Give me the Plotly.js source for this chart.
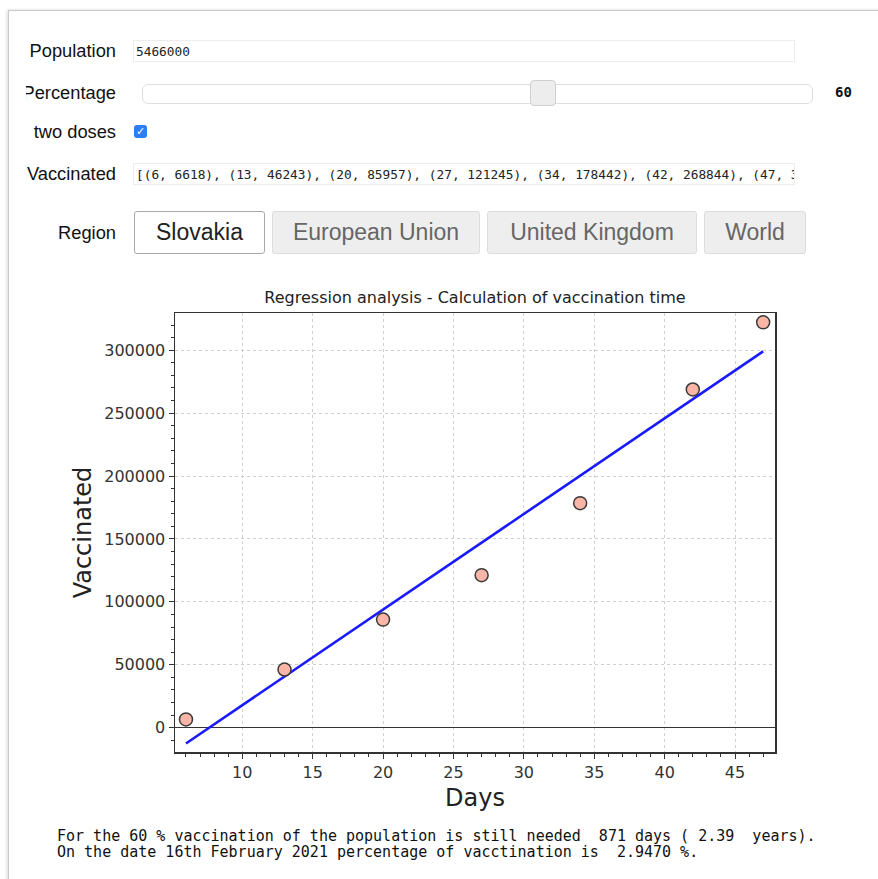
<!DOCTYPE html>
<html>
<head>
<meta charset="utf-8">
<script src="https://cdn.plot.ly/plotly-3.0.1.min.js"></script>
<style>
  html, body { margin:0; padding:0; background:#fff; width:878px; height:879px; overflow:hidden; }
  #frame { position:absolute; left:8px; top:10px; width:900px; height:900px; border-left:1px solid #c8c8c8; border-top:1px solid #c8c8c8; box-shadow:-1px 0 3px rgba(0,0,0,0.15); }
  #plot { position:absolute; left:0; top:0; width:878px; height:879px; }
  .lbl { position:absolute; left:26px; width:90px; height:24px; display:flex; justify-content:flex-end; align-items:center; overflow:hidden; white-space:nowrap; font-family:"Liberation Sans", Arial, sans-serif; font-size:18.3px; color:#111; }
  .inp { position:absolute; left:133px; width:662px; height:22px; border:1px solid #ececec; background:#fff; font-family:"DejaVu Sans Mono", monospace; font-size:12.8px; color:#222; line-height:22px; padding-left:2px; overflow:hidden; white-space:nowrap; box-sizing:border-box; }
  .btn { position:absolute; top:211px; height:43px; box-sizing:border-box; border:1px solid #dcdcdc; border-radius:3px; background:#eeeeee; color:#666; font-family:"Liberation Sans", Arial, sans-serif; font-size:23px; display:flex; align-items:center; justify-content:center; white-space:nowrap; }
  .txt { position:absolute; left:57px; font-family:"DejaVu Sans Mono", monospace; font-size:15px; line-height:16px; color:#111; white-space:pre; }
</style>
</head>
<body>
<div id="frame"></div>
<div id="plot"></div>

<div class="lbl" style="top:39px;">Population</div>
<div class="inp" id="popInput" style="top:40px;"></div>

<div class="lbl" style="top:81px;">Percentage</div>
<div style="position:absolute; left:142px; top:84px; width:671px; height:20px; box-sizing:border-box; border:1px solid #dedede; border-radius:6px; background:#fff;"></div>
<div style="position:absolute; left:530px; top:80px; width:26px; height:26px; box-sizing:border-box; border:1px solid #cfcfcf; border-radius:4px; background:#ededed;"></div>
<div id="pctVal" style="position:absolute; left:835px; top:84px; font-family:'DejaVu Sans Mono', monospace; font-size:14px; font-weight:bold; color:#111;"></div>

<div class="lbl" style="top:120px;">two doses</div>
<div style="position:absolute; left:134px; top:125px; width:13px; height:13px; border-radius:3px; background:#2f7df6; color:#fff; font-size:11px; line-height:13px; text-align:center; font-family:'DejaVu Sans', sans-serif; font-weight:bold;">&#10003;</div>

<div class="lbl" style="top:162px;">Vaccinated</div>
<div class="inp" id="vacInput" style="top:163px;"></div>

<div class="lbl" style="top:221px;">Region</div>
<div id="btns"></div>

<div class="txt" id="result" style="top:828px;"></div>

<script>
// ---- data ----
const population = 5466000;
const percentage = 60;
const days = [6, 13, 20, 27, 34, 42, 47];
const vaccinated = [6618, 46243, 85957, 121245, 178442, 268844, 322172];
const fitDays = [6, 47];
const fitVaccinated = [-12540, 299090];
const regions = ["Slovakia", "European Union", "United Kingdom", "World"];
const xTickVals = [10, 15, 20, 25, 30, 35, 40, 45];
const yTickVals = [0, 50000, 100000, 150000, 200000, 250000, 300000];
const neededDays = 871;
const neededYears = "2.39";
const currentPct = "2.9470";
const dateText = "16th February 2021";

// ---- widget texts ----
document.getElementById('popInput').textContent = String(population);
document.getElementById('pctVal').textContent = String(percentage);
document.getElementById('vacInput').textContent =
  '[' + days.map((d, i) => '(' + d + ', ' + vaccinated[i] + ')').join(', ') + ']';
document.getElementById('result').textContent =
  'For the ' + percentage + ' % vaccination of the population is still needed  ' + neededDays + ' days ( ' + neededYears + '  years).\n' +
  'On the date ' + dateText + ' percentage of vacctination is  ' + currentPct + ' %.';

const btnPos = [[134, 131], [272, 208], [487, 210], [704, 102]];
const btnHost = document.getElementById('btns');
regions.forEach((r, i) => {
  const b = document.createElement('div');
  b.className = 'btn';
  b.style.left = btnPos[i][0] + 'px';
  b.style.width = btnPos[i][1] + 'px';
  b.textContent = r;
  if (i === 0) { b.style.background = '#fff'; b.style.color = '#222'; b.style.borderColor = '#a9a9a9'; }
  btnHost.appendChild(b);
});

// ---- chart ----
const axisFont = {family: 'DejaVu Sans, sans-serif', size: 16, color: '#333'};
const traces = [
  {
    x: fitDays, y: fitVaccinated, type: 'scatter', mode: 'lines',
    line: {color: '#1a1aff', width: 2.6}, hoverinfo: 'skip', showlegend: false
  },
  {
    x: days, y: vaccinated, type: 'scatter', mode: 'markers',
    marker: {size: 13, color: '#f9b6a6', line: {color: '#3a3a3a', width: 1.5}},
    showlegend: false
  }
];
const layout = {
  width: 878, height: 879,
  margin: {l: 175, r: 103, t: 313, b: 127, pad: 0},
  paper_bgcolor: 'rgba(0,0,0,0)', plot_bgcolor: '#fff',
  title: {
    text: 'Regression analysis - Calculation of vaccination time',
    font: {family: 'DejaVu Sans, sans-serif', size: 16, color: '#222'},
    xref: 'paper', x: 0.5, xanchor: 'center',
    yref: 'container', y: 1 - 297 / 879, yanchor: 'middle'
  },
  xaxis: {
    range: [5.22, 47.84], tickvals: xTickVals, ticks: 'outside', ticklen: 5, tickwidth: 1, tickcolor: '#333',
    minor: {dtick: 1, tick0: 0, ticks: 'outside', ticklen: 3, tickcolor: '#333', showgrid: false},
    showgrid: true, gridcolor: '#d0d0d0', griddash: 'dot', gridwidth: 1,
    zeroline: false, showline: true, mirror: true, linecolor: '#333', linewidth: 1.5,
    tickfont: axisFont, automargin: false,
    title: {text: 'Days', font: {family: 'DejaVu Sans, sans-serif', size: 24, color: '#222'}, standoff: 8}
  },
  yaxis: {
    range: [-19300, 329600], tickvals: yTickVals, ticks: 'outside', ticklen: 5, tickwidth: 1, tickcolor: '#333',
    minor: {dtick: 10000, tick0: 0, ticks: 'outside', ticklen: 3, tickcolor: '#333', showgrid: false},
    showgrid: true, gridcolor: '#d0d0d0', griddash: 'dot', gridwidth: 1,
    zeroline: true, zerolinecolor: '#333', zerolinewidth: 1.5,
    showline: true, mirror: true, linecolor: '#333', linewidth: 1.5,
    tickfont: axisFont, automargin: false, tickformat: 'd',
    title: {text: 'Vaccinated', font: {family: 'DejaVu Sans, sans-serif', size: 24, color: '#222'}, standoff: 6}
  }
};
Plotly.newPlot('plot', traces, layout, {displayModeBar: false, staticPlot: true});
</script>
</body>
</html>
